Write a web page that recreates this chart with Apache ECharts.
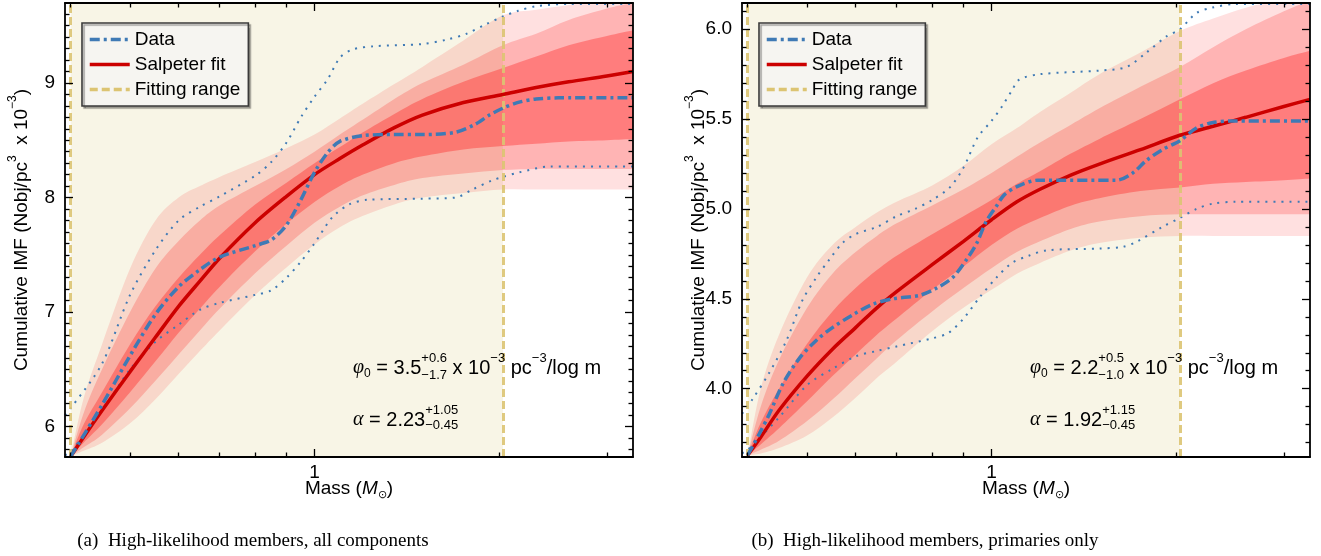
<!DOCTYPE html>
<html><head><meta charset="utf-8">
<script src="https://cdn.jsdelivr.net/npm/echarts@6/dist/echarts.min.js"></script>
<style>html,body{margin:0;padding:0;background:#fff}#c{width:1321px;height:556px}</style>
</head><body><div id="c"></div>
<script>
// ================= DATA =================
// common mass grid for the fitted curve and its confidence bands
const massGrid = [0.4,0.42,0.45,0.5,0.55,0.6,0.65,0.7,0.8,0.9,1.0,1.1,1.2,1.35,1.5,1.75,2.03,2.3,2.6,3.0,3.31];

// ---- panel (a): all components ----
const fitA     = [5.74,5.91,6.14,6.48,6.78,7.05,7.27,7.47,7.78,8.01,8.20,8.34,8.46,8.61,8.72,8.83,8.90,8.96,9.01,9.06,9.10];
const outerTopA= [5.74,6.25,6.72,7.38,7.80,8.00,8.10,8.18,8.31,8.43,8.55,8.69,8.82,8.99,9.14,9.37,9.59,9.64,9.68,9.74,9.78];
const midTopA  = [5.74,6.12,6.50,7.00,7.38,7.62,7.80,7.93,8.10,8.25,8.40,8.55,8.68,8.86,9.00,9.16,9.33,9.43,9.55,9.65,9.70];
const innTopA  = [5.74,6.02,6.30,6.72,7.05,7.30,7.50,7.67,7.94,8.13,8.30,8.44,8.57,8.73,8.86,9.01,9.13,9.23,9.33,9.41,9.46];
const innBotA  = [5.74,5.86,6.02,6.30,6.57,6.82,7.03,7.22,7.53,7.77,7.96,8.10,8.20,8.30,8.36,8.42,8.45,8.47,8.49,8.50,8.51];
const midBotA  = [5.74,5.82,5.93,6.16,6.40,6.63,6.84,7.03,7.34,7.58,7.78,7.92,8.02,8.11,8.17,8.21,8.24,8.25,8.25,8.25,8.25];
const outerBotA= [5.74,5.79,5.86,6.03,6.24,6.46,6.66,6.84,7.15,7.39,7.59,7.74,7.84,7.94,8.00,8.04,8.07,8.07,8.07,8.07,8.07];

const massDataA = [0.4,0.45,0.5,0.55,0.6,0.65,0.7,0.8,0.85,0.9,0.95,1.0,1.05,1.1,1.2,1.35,1.5,1.7,1.83,1.93,2.03,2.15,2.3,2.5,3.31];
const dataA     = [5.74,6.19,6.62,6.98,7.22,7.37,7.48,7.58,7.63,7.76,7.98,8.22,8.39,8.49,8.54,8.55,8.55,8.57,8.64,8.72,8.78,8.83,8.86,8.87,8.87];
const massUpA   = [0.3915,0.4,0.45,0.5,0.55,0.6,0.65,0.7,0.8,0.85,0.9,0.95,1.0,1.05,1.1,1.15,1.25,1.5,1.65,1.77,1.9,2.03,2.15,2.3,2.6,3.31];
const upperA    = [6.10,6.16,6.55,7.15,7.54,7.80,7.92,8.01,8.19,8.31,8.48,8.70,8.88,9.03,9.22,9.29,9.32,9.34,9.38,9.43,9.51,9.58,9.63,9.67,9.69,9.69];
const massLoA   = [0.3915,0.4,0.45,0.5,0.55,0.6,0.65,0.7,0.8,0.85,0.9,0.95,1.0,1.07,1.14,1.22,1.5,1.7,1.81,1.95,2.03,2.16,2.42,3.31];
const lowerA    = [5.75,5.78,6.14,6.50,6.74,6.89,7.02,7.08,7.15,7.19,7.30,7.44,7.60,7.83,7.94,7.98,7.99,8.00,8.07,8.15,8.18,8.22,8.27,8.27];

// ---- panel (b): primaries only ----
const fitB     = [3.63,3.73,3.88,4.07,4.22,4.34,4.45,4.54,4.69,4.82,4.94,5.04,5.11,5.19,5.25,5.33,5.41,5.46,5.51,5.57,5.61];
const outerTopB= [3.63,4.00,4.30,4.62,4.80,4.90,4.98,5.04,5.13,5.24,5.36,5.45,5.54,5.65,5.75,5.87,5.99,6.06,6.12,6.17,6.20];
const midTopB  = [3.63,3.90,4.16,4.45,4.64,4.76,4.85,4.92,5.02,5.11,5.20,5.29,5.37,5.47,5.56,5.68,5.79,5.90,6.00,6.10,6.16];
const innTopB  = [3.63,3.81,4.00,4.25,4.43,4.56,4.66,4.74,4.86,4.96,5.05,5.14,5.21,5.31,5.39,5.50,5.61,5.70,5.77,5.84,5.88];
const innBotB  = [3.63,3.69,3.78,3.93,4.07,4.19,4.30,4.39,4.55,4.68,4.80,4.89,4.95,5.02,5.06,5.10,5.12,5.14,5.15,5.16,5.17];
const midBotB  = [3.63,3.66,3.71,3.82,3.94,4.06,4.17,4.27,4.43,4.56,4.67,4.76,4.82,4.89,4.93,4.96,4.97,4.97,4.97,4.97,4.97];
const outerBotB= [3.63,3.64,3.67,3.74,3.84,3.95,4.06,4.15,4.32,4.45,4.55,4.64,4.70,4.77,4.81,4.84,4.85,4.85,4.85,4.85,4.85];

const massDataB = [0.4,0.418,0.434,0.457,0.486,0.518,0.55,0.593,0.64,0.69,0.764,0.814,0.865,0.911,0.946,0.98,1.016,1.05,1.11,1.19,1.6,1.7,1.79,1.9,2.03,2.16,2.29,2.5,3.31];
const dataB     = [3.63,3.75,3.86,4.03,4.17,4.27,4.34,4.41,4.47,4.50,4.52,4.56,4.62,4.72,4.81,4.93,5.01,5.08,5.13,5.16,5.16,5.20,5.27,5.33,5.38,5.45,5.48,5.49,5.49];
const massUpB   = [0.3915,0.407,0.434,0.463,0.491,0.518,0.544,0.571,0.6,0.65,0.7,0.75,0.8,0.855,0.9,0.95,1.0,1.04,1.08,1.11,1.2,1.5,1.66,1.79,1.93,2.03,2.16,2.29,2.5,3.31];
const upperB    = [3.86,3.94,4.09,4.27,4.49,4.62,4.72,4.81,4.86,4.90,4.96,5.00,5.05,5.12,5.23,5.40,5.49,5.57,5.66,5.72,5.75,5.77,5.79,5.87,5.96,6.00,6.09,6.12,6.14,6.14];
const massLoB   = [0.3915,0.4,0.45,0.5,0.55,0.6,0.65,0.7,0.8,0.85,0.9,0.957,1.02,1.08,1.15,1.23,1.5,1.64,1.73,1.9,2.03,2.16,2.3,2.5,3.31];
const lowerB    = [3.64,3.66,3.84,4.02,4.11,4.18,4.21,4.235,4.28,4.31,4.39,4.51,4.62,4.70,4.74,4.77,4.78,4.79,4.82,4.90,4.95,5.00,5.03,5.04,5.04];

// fitting range (solar masses) and axis extents
const fitRange = [0.4, 2.03];
const massExtent = [0.3915, 3.31];
const yExtentA = [5.735, 9.698];
const yExtentB = [3.62, 6.146];

// tick labels
const xMajorTicks = [1];
const xTickLabels = ['1'];
const xMinorTicks = [0.4,0.5,0.6,0.7,0.8,0.9,2,3];
const yMajorA = [6,7,8,9];
const yLabelsA = ['6','7','8','9'];
const yMajorB = [4.0,4.5,5.0,5.5,6.0];
const yLabelsB = ['4.0','4.5','5.0','5.5','6.0'];

const legendNames = ['Data','Salpeter fit','Fitting range'];
const captionA = '(a)  High-likelihood members, all components';
const captionB = '(b)  High-likelihood members, primaries only';

// ================= STYLE =================
const SANS = "'Liberation Sans', Arial, Helvetica, sans-serif";
const SERIF = "'Liberation Serif', 'DejaVu Serif', serif";
const C_BLUE = '#3f7ab5';
const C_RED = '#cc0000';
const C_GOLD = '#dcc472';
const C_BEIGE = '#f8f5e6';
// three overlapping translucent layers (3σ, 2σ, 1σ)
const BAND_OUT = 'rgba(255,0,0,0.12)';
const BAND_MID = 'rgba(255,0,0,0.196)';
const BAND_IN  = 'rgba(255,0,0,0.30)';

const chart = echarts.init(document.getElementById('c'), null, {renderer:'canvas'});
const xAxes = [], yAxes = [], grids = [], series = [], legends = [], graphics = [];

function zip(xs, ys){ return xs.map((x,i)=>[x, ys[i]]); }
function minorList(lo, hi, step, majors){
  const out=[]; for(let k=Math.ceil(lo/step-1e-9); k*step<=hi+1e-9; k++){ const v=+(k*step).toFixed(4); if(!majors.some(m=>Math.abs(m-v)<1e-6)) out.push(v);} return out;
}
// Catmull-Rom smoothing of pixel points into SVG path commands
function crPath(pts, move){
  let d = (move?'M':'L') + pts[0][0].toFixed(2)+' '+pts[0][1].toFixed(2);
  for(let i=0;i<pts.length-1;i++){
    const p0=pts[Math.max(i-1,0)], p1=pts[i], p2=pts[i+1], p3=pts[Math.min(i+2,pts.length-1)];
    const c1=[p1[0]+(p2[0]-p0[0])/6, p1[1]+(p2[1]-p0[1])/6];
    const c2=[p2[0]-(p3[0]-p1[0])/6, p2[1]-(p3[1]-p1[1])/6];
    d += ' C'+c1[0].toFixed(2)+' '+c1[1].toFixed(2)+' '+c2[0].toFixed(2)+' '+c2[1].toFixed(2)+' '+p2[0].toFixed(2)+' '+p2[1].toFixed(2);
  }
  return d;
}
function bandSeries(xi, yi, lo, hi, color, name){
  return {type:'custom', name:name, xAxisIndex:xi, yAxisIndex:yi, silent:true, z:1, clip:true, animation:false,
    data: massGrid.map((m,i)=>[m, lo[i], hi[i]]),
    renderItem:(params, api)=>{
      if(params.dataIndex!==0) return null;
      const top = massGrid.map((m,i)=>api.coord([m, hi[i]]));
      const bot = massGrid.map((m,i)=>api.coord([m, lo[i]])).reverse();
      const d = crPath(top, true) + ' ' + crPath(bot, false) + ' Z';
      const cs = params.coordSys;
      return {type:'path', shape:{pathData:d}, style:{fill:color, stroke:null},
        clipPath:{type:'rect', shape:{x:cs.x, y:cs.y, width:cs.width, height:cs.height}}};
    }};
}

function panel(P){
  const g = grids.length;
  grids.push({left:P.left, top:3, width:568, height:454, containLabel:false});
  const lmin = Math.log10(massExtent[0]), lmax = Math.log10(massExtent[1]);
  const axLine = {show:true, onZero:false, lineStyle:{color:'#000', width:1.8}};
  const noLine = {show:false, onZero:false};
  const tickStyle = {color:'#000', width:1.3};
  const xi = xAxes.length;
  xAxes.push({type:'log', logBase:10, gridIndex:g, min:massExtent[0], max:massExtent[1], z:0,
    axisLine:noLine, axisTick:{show:false}, axisLabel:{show:false}, splitLine:{show:false}});
  const majV = xMajorTicks.map(Math.log10), minV = xMinorTicks.map(Math.log10);
  ['bottom','top'].forEach(pos=>{
    xAxes.push({type:'value', gridIndex:g, position:pos, min:lmin, max:lmax, axisLine:axLine, z:20,
      axisTick:{show:true, inside:true, length:8, lineStyle:tickStyle, customValues:majV},
      axisLabel:{show:pos==='bottom', customValues:majV, margin:6, color:'#000', fontSize:19, fontFamily:SANS,
        formatter:(v)=>{const i=majV.findIndex(m=>Math.abs(m-v)<1e-6); return i>=0?xTickLabels[i]:'';}},
      splitLine:{show:false}});
    xAxes.push({type:'value', gridIndex:g, position:pos, min:lmin, max:lmax, axisLine:noLine, z:20,
      axisTick:{show:true, inside:true, length:4.5, lineStyle:tickStyle, customValues:minV},
      axisLabel:{show:false}, splitLine:{show:false}});
  });
  const yi = yAxes.length;
  const ymin = P.yExt[0], ymax = P.yExt[1];
  const yMinor = minorList(ymin, ymax, 0.1, P.yMajor);
  yAxes.push({type:'value', gridIndex:g, position:'left', min:ymin, max:ymax, axisLine:axLine, z:20,
    axisTick:{show:true, inside:true, length:8, lineStyle:tickStyle, customValues:P.yMajor},
    axisLabel:{show:true, customValues:P.yMajor, margin:10, color:'#000', fontSize:19, fontFamily:SANS,
      formatter:(v)=>{const i=P.yMajor.findIndex(m=>Math.abs(m-v)<1e-6); return i>=0?P.yLabels[i]:'';}},
    splitLine:{show:false}});
  yAxes.push({type:'value', gridIndex:g, position:'left', min:ymin, max:ymax, axisLine:noLine, z:20,
    axisTick:{show:true, inside:true, length:4.5, lineStyle:tickStyle, customValues:yMinor}, axisLabel:{show:false}, splitLine:{show:false}});
  yAxes.push({type:'value', gridIndex:g, position:'right', min:ymin, max:ymax, axisLine:axLine, z:20,
    axisTick:{show:true, inside:true, length:8, lineStyle:tickStyle, customValues:P.yMajor}, axisLabel:{show:false}, splitLine:{show:false}});
  yAxes.push({type:'value', gridIndex:g, position:'right', min:ymin, max:ymax, axisLine:noLine, z:20,
    axisTick:{show:true, inside:true, length:4.5, lineStyle:tickStyle, customValues:yMinor}, axisLabel:{show:false}, splitLine:{show:false}});

  const base = {type:'line', xAxisIndex:xi, yAxisIndex:yi, symbol:'none', silent:true, animation:false};
  // fitting range background
  series.push(Object.assign({}, base, {name:'bg'+g, data:[], z:0,
    markArea:{silent:true, itemStyle:{color:C_BEIGE}, data:[[{xAxis:fitRange[0]},{xAxis:fitRange[1]}]]}}));
  // confidence bands (3σ, 2σ, 1σ overlapping layers)
  series.push(bandSeries(xi, yi, P.outerBot, P.outerTop, BAND_OUT, 'band3_'+g));
  series.push(bandSeries(xi, yi, P.midBot, P.midTop, BAND_MID, 'band2_'+g));
  series.push(bandSeries(xi, yi, P.innBot, P.innTop, BAND_IN, 'band1_'+g));
  // data envelope (dotted)
  [[P.massUp,P.upper],[P.massLo,P.lower]].forEach((d,k)=>{
    series.push(Object.assign({}, base, {name:'Data range'+g+k, z:3, smooth:0.3, data:zip(d[0],d[1]),
      lineStyle:{color:C_BLUE, width:2, type:[2,6], cap:'butt'}}));
  });
  // fitting range lines
  series.push(Object.assign({}, base, {name:'Fitting range', data:[], z:4,
    lineStyle:{color:C_GOLD, width:3, type:[8,4]},
    markLine:{silent:true, symbol:['none','none'], label:{show:false},
      lineStyle:{color:C_GOLD, width:3, type:[8,4], opacity:0.9},
      data: fitRange.map(v=>({xAxis:v}))}}));
  // fit
  series.push(Object.assign({}, base, {name:'Salpeter fit', z:5, smooth:0.3, data:zip(massGrid, P.fit),
    lineStyle:{color:C_RED, width:3.5}}));
  // data
  series.push(Object.assign({}, base, {name:'Data', z:6, smooth:0.3, data:zip(P.massData, P.data),
    lineStyle:{color:C_BLUE, width:3.5, type:[10,4,3,4]}}));

  legends.push({show:true, orient:'vertical', left:P.left+17, top:23, z:30,
    data: legendNames.map(n=>({name:n, itemStyle:{opacity:0}, lineStyle:{width:3.5}})),
    itemWidth:40, itemHeight:14, itemGap:6, padding:[7,8,7,6],
    backgroundColor:'#f6f5f1', borderColor:'#3a3a3a', borderWidth:1.6, borderRadius:0,
    shadowColor:'rgba(0,0,0,0.35)', shadowOffsetX:2, shadowOffsetY:2, shadowBlur:1,
    textStyle:{fontSize:19, fontFamily:SANS, color:'#000'}, selectedMode:false});

  // annotations
  const ox = P.left;
  mathLine(ox+288, 368, [
    {t:'φ', f:20, it:true, serif:true},{t:'0', f:12, dy:6},{t:' = '+P.phi, f:20},
    {sup:P.phiUp, sub:P.phiDn, f:13, up:-10, dn:7},
    {t:' x 10', f:20},{t:'−3', f:13, dy:-10},{t:' pc', f:20},{t:'−3', f:13, dy:-10},{t:'/log m', f:20}
  ]);
  mathLine(ox+288, 420, [
    {t:'α', f:20, it:true, serif:true},{t:' = '+P.alpha, f:20},{sup:P.aUp, sub:P.aDn, f:13, up:-10, dn:5}
  ]);
  // x axis title
  const parts = [{t:'Mass (', f:19},{t:'M', f:19, it:true},{t:'⊙', f:11, dy:6},{t:')', f:19}];
  const w = lineWidth(parts);
  mathLine(P.left+284-w/2, 489, parts);
  // y axis title (rotated)
  graphics.push({type:'text', x:P.left-43, y:230, rotation:Math.PI/2, silent:true, z:50,
    style:{text:'Cumulative IMF (Nobj/pc{s|3}  x 10{s|−3})', fontSize:19, fontFamily:SANS, fill:'#000',
      textAlign:'center', textVerticalAlign:'middle', lineHeight:30,
      rich:{s:{fontSize:12, fontFamily:SANS, verticalAlign:'top', lineHeight:14, fill:'#000'}}}});
  // caption
  graphics.push({type:'text', x:P.capX, y:541, silent:true, z:50,
    style:{text:P.caption, fontSize:19, fontFamily:SERIF, fill:'#000', textAlign:'center', textVerticalAlign:'middle'}});
}

const mctx = document.createElement('canvas').getContext('2d');
function fontOf(p){ return (p.it?'italic ':'') + p.f + 'px ' + (p.serif?SERIF:SANS); }
function tw(t, p){ mctx.font = fontOf(p); return mctx.measureText(t).width; }
function lineWidth(parts){ return parts.reduce((s,p)=> s + (p.t!==undefined ? tw(p.t,p) : Math.max(tw(p.sup,p), tw(p.sub,p))), 0); }
function txt(x, y, t, p){
  graphics.push({type:'text', x:x, y:y, silent:true, z:50,
    style:{text:t, fontSize:p.f, fontFamily:p.serif?SERIF:SANS, fontStyle:p.it?'italic':'normal', fill:'#000',
      textAlign:'left', textVerticalAlign:'middle'}});
}
function mathLine(x, y, parts){
  let cx = x;
  parts.forEach(p=>{
    if(p.t!==undefined){ txt(cx, y+(p.dy||0), p.t, p); cx += tw(p.t,p); }
    else { txt(cx, y+p.up, p.sup, p); txt(cx, y+p.dn, p.sub, p); cx += Math.max(tw(p.sup,p), tw(p.sub,p)); }
  });
}

panel({left:65, yExt:yExtentA, yMajor:yMajorA, yLabels:yLabelsA,
  fit:fitA, outerTop:outerTopA, midTop:midTopA, innTop:innTopA, innBot:innBotA, midBot:midBotA, outerBot:outerBotA,
  massData:massDataA, data:dataA, massUp:massUpA, upper:upperA, massLo:massLoA, lower:lowerA,
  phi:'3.5', phiUp:'+0.6', phiDn:'−1.7', alpha:'2.23', aUp:'+1.05', aDn:'−0.45',
  caption:captionA, capX:253});
panel({left:742, yExt:yExtentB, yMajor:yMajorB, yLabels:yLabelsB,
  fit:fitB, outerTop:outerTopB, midTop:midTopB, innTop:innTopB, innBot:innBotB, midBot:midBotB, outerBot:outerBotB,
  massData:massDataB, data:dataB, massUp:massUpB, upper:upperB, massLo:massLoB, lower:lowerB,
  phi:'2.2', phiUp:'+0.5', phiDn:'−1.0', alpha:'1.92', aUp:'+1.15', aDn:'−0.45',
  caption:captionB, capX:925});

chart.setOption({
  animation:false, backgroundColor:'#ffffff',
  grid:grids, xAxis:xAxes, yAxis:yAxes, series:series, legend:legends, graphic:{elements:graphics}
});
</script></body></html>
